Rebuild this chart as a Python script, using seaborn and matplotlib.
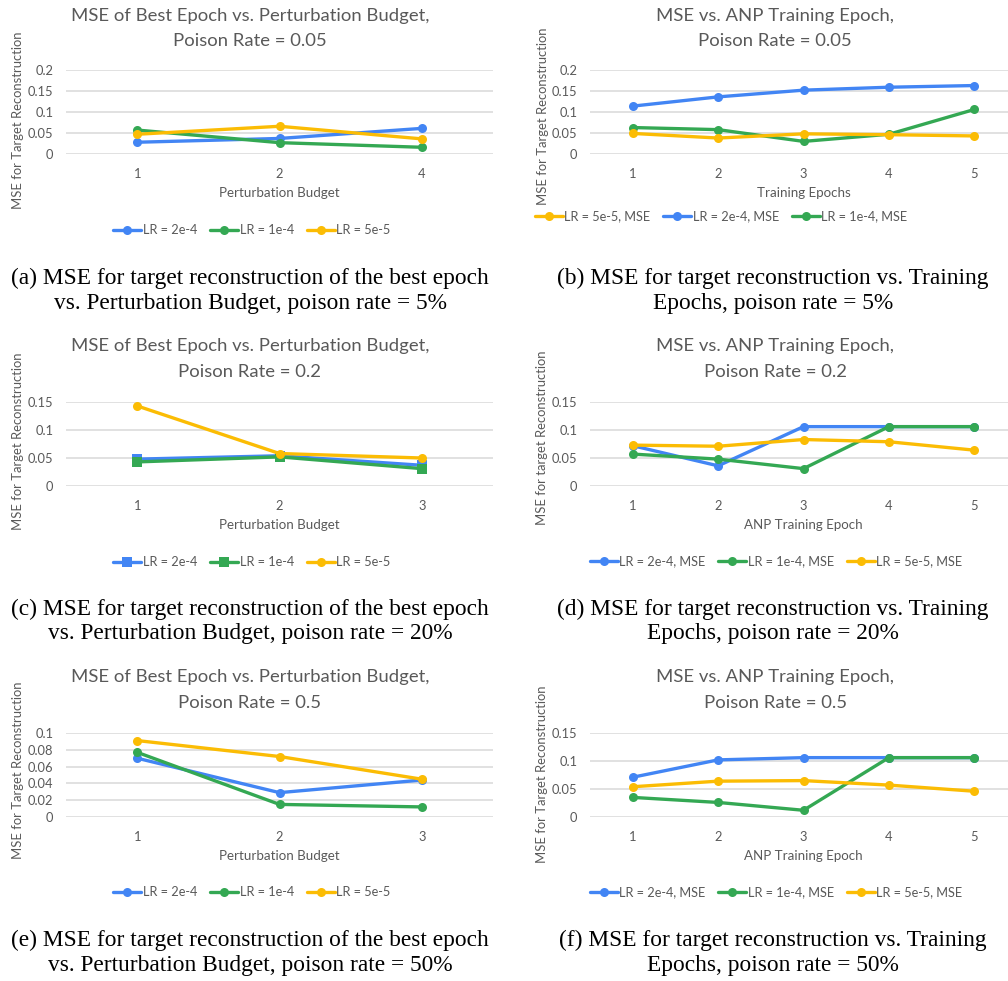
import matplotlib
matplotlib.use("Agg")
import matplotlib.pyplot as plt
import seaborn as sns
import pandas as pd

# ---- data -------------------------------------------------------------
budget_a = ["1", "2", "4"]
a_lr2e4 = [0.028, 0.037, 0.061]
a_lr1e4 = [0.057, 0.027, 0.016]
a_lr5e5 = [0.047, 0.066, 0.036]

epochs = ["1", "2", "3", "4", "5"]
b_lr5e5 = [0.049, 0.038, 0.048, 0.046, 0.043]
b_lr2e4 = [0.114, 0.136, 0.152, 0.159, 0.163]
b_lr1e4 = [0.063, 0.058, 0.030, 0.047, 0.106]

budget_c = ["1", "2", "3"]
c_lr2e4 = [0.048, 0.054, 0.037]
c_lr1e4 = [0.043, 0.052, 0.031]
c_lr5e5 = [0.143, 0.058, 0.050]

d_lr2e4 = [0.072, 0.036, 0.106, 0.106, 0.106]
d_lr1e4 = [0.057, 0.048, 0.031, 0.106, 0.106]
d_lr5e5 = [0.073, 0.071, 0.083, 0.079, 0.064]

budget_e = ["1", "2", "3"]
e_lr2e4 = [0.070, 0.029, 0.044]
e_lr1e4 = [0.077, 0.015, 0.012]
e_lr5e5 = [0.091, 0.072, 0.045]

f_lr2e4 = [0.071, 0.102, 0.106, 0.106, 0.106]
f_lr1e4 = [0.035, 0.026, 0.012, 0.106, 0.106]
f_lr5e5 = [0.054, 0.064, 0.065, 0.057, 0.046]

# ---- style ------------------------------------------------------------
BLUE, GREEN, YELLOW = "#4285F4", "#34A853", "#FBBC04"
TEXT = "#595959"
GRID = "#d9d9d9"

sns.set_theme(style="white")
plt.rcParams["font.family"] = ["Lato", "DejaVu Sans"]

W, H = 1008, 981
fig = plt.figure(figsize=(W / 100, H / 100), dpi=100)


def fx(x):
    return x / W


def fy(y):
    return 1 - y / H


def make_axes(left, top, right, bottom):
    return fig.add_axes([fx(left), fy(bottom), fx(right - left), (bottom - top) / H])


def draw_panel(box, cats, series, ymax, ystep, title, xlabel, ylabel,
               title_x, title_y, ylab_x, ylab_y, leg_x, leg_y, legend_order):
    ax = make_axes(*box)
    pos = list(range(len(cats)))
    for label, vals, color, marker in series:
        df = pd.DataFrame({"pos": pos, "mse": vals})
        sns.lineplot(data=df, x="pos", y="mse", ax=ax, color=color,
                     marker=marker, markersize=6.5, markeredgewidth=0,
                     linewidth=2.4, label=label, zorder=3)
    n_ticks = int(round(ymax / ystep))
    yt = [round(i * ystep, 4) for i in range(n_ticks + 1)]
    ax.set_ylim(0, ymax)
    ax.set_yticks(yt)
    ax.set_yticklabels([f"{v:g}" for v in yt])
    ax.set_xlim(-0.5, len(cats) - 0.5)
    ax.set_xticks(pos)
    ax.set_xticklabels(cats)
    ax.grid(axis="y", color=GRID, linewidth=1.1, zorder=0)
    ax.grid(axis="x", visible=False)
    for s in ax.spines.values():
        s.set_visible(False)
    ax.tick_params(axis="both", length=0, labelsize=9.3, labelcolor=TEXT)
    ax.tick_params(axis="x", pad=10)
    ax.tick_params(axis="y", pad=9)
    ax.set_xlabel("")
    ax.set_ylabel("")

    # title (two lines), axis labels
    fig.text(fx(title_x), fy(title_y[0]), title[0], ha="center", va="center",
             fontsize=13.3, color=TEXT)
    fig.text(fx(title_x), fy(title_y[1]), title[1], ha="center", va="center",
             fontsize=13.3, color=TEXT)
    xl_x = (box[0] + box[2]) / 2
    xl_y = box[3] + 39
    fig.text(fx(xl_x), fy(xl_y), xlabel, ha="center", va="center",
             fontsize=9.6, color=TEXT)
    fig.text(fx(ylab_x), fy(ylab_y), ylabel, ha="center", va="center",
             rotation=90, fontsize=9.4, color=TEXT)

    handles, labels = ax.get_legend_handles_labels()
    lookup = dict(zip(labels, handles))
    ax.legend([lookup[l] for l in legend_order], legend_order,
              loc="center", bbox_to_anchor=(fx(leg_x), fy(leg_y)),
              bbox_transform=fig.transFigure, ncol=3, frameon=False,
              fontsize=9.2, labelcolor=TEXT, handlelength=2.2,
              handletextpad=0.12, columnspacing=1.0)
    return ax


# (a)
draw_panel((66, 70, 493, 154), budget_a,
           [("LR = 2e-4", a_lr2e4, BLUE, "o"),
            ("LR = 1e-4", a_lr1e4, GREEN, "o"),
            ("LR = 5e-5", a_lr5e5, YELLOW, "o")],
           0.2, 0.05,
           ("MSE of Best Epoch vs. Perturbation Budget,", "Poison Rate = 0.05"),
           "Perturbation Budget", "MSE for Target Reconstruction",
           250, (16, 41), 18, 120, 252, 230,
           ["LR = 2e-4", "LR = 1e-4", "LR = 5e-5"])

# (b)
draw_panel((590, 70, 1017, 154), epochs,
           [("LR = 2e-4, MSE", b_lr2e4, BLUE, "o"),
            ("LR = 1e-4, MSE", b_lr1e4, GREEN, "o"),
            ("LR = 5e-5, MSE", b_lr5e5, YELLOW, "o")],
           0.2, 0.05,
           ("MSE vs. ANP Training Epoch,", "Poison Rate = 0.05"),
           "Training Epochs", "MSE for Target Reconstruction",
           775, (16, 41), 543, 116, 721, 216,
           ["LR = 5e-5, MSE", "LR = 2e-4, MSE", "LR = 1e-4, MSE"])

# (c)
draw_panel((66, 402, 493, 486), budget_c,
           [("LR = 2e-4", c_lr2e4, BLUE, "s"),
            ("LR = 1e-4", c_lr1e4, GREEN, "s"),
            ("LR = 5e-5", c_lr5e5, YELLOW, "o")],
           0.15, 0.05,
           ("MSE of Best Epoch vs. Perturbation Budget,", "Poison Rate = 0.2"),
           "Perturbation Budget", "MSE for Target Reconstruction",
           250, (346, 372), 18, 441, 252, 562,
           ["LR = 2e-4", "LR = 1e-4", "LR = 5e-5"])

# (d)
draw_panel((590, 402, 1017, 486), epochs,
           [("LR = 2e-4, MSE", d_lr2e4, BLUE, "o"),
            ("LR = 1e-4, MSE", d_lr1e4, GREEN, "o"),
            ("LR = 5e-5, MSE", d_lr5e5, YELLOW, "o")],
           0.15, 0.05,
           ("MSE vs. ANP Training Epoch,", "Poison Rate = 0.2"),
           "ANP Training Epoch", "MSE for target Reconstruction",
           775, (346, 372), 542, 438, 776, 561,
           ["LR = 2e-4, MSE", "LR = 1e-4, MSE", "LR = 5e-5, MSE"])

# (e)
draw_panel((66, 733, 493, 817), budget_e,
           [("LR = 2e-4", e_lr2e4, BLUE, "o"),
            ("LR = 1e-4", e_lr1e4, GREEN, "o"),
            ("LR = 5e-5", e_lr5e5, YELLOW, "o")],
           0.1, 0.02,
           ("MSE of Best Epoch vs. Perturbation Budget,", "Poison Rate = 0.5"),
           "Perturbation Budget", "MSE for Target Reconstruction",
           250, (677, 703), 18, 770, 252, 892,
           ["LR = 2e-4", "LR = 1e-4", "LR = 5e-5"])

# (f)
draw_panel((590, 733, 1017, 817), epochs,
           [("LR = 2e-4, MSE", f_lr2e4, BLUE, "o"),
            ("LR = 1e-4, MSE", f_lr1e4, GREEN, "o"),
            ("LR = 5e-5, MSE", f_lr5e5, YELLOW, "o")],
           0.15, 0.05,
           ("MSE vs. ANP Training Epoch,", "Poison Rate = 0.5"),
           "ANP Training Epoch", "MSE for Target Reconstruction",
           775, (677, 703), 542, 774, 776, 892,
           ["LR = 2e-4, MSE", "LR = 1e-4, MSE", "LR = 5e-5, MSE"])

# ---- sub-figure captions ----------------------------------------------
captions = [
    (250, 278, "(a) MSE for target reconstruction of the best epoch"),
    (250, 303, "vs. Perturbation Budget, poison rate = 5%"),
    (773, 278, "(b) MSE for target reconstruction vs. Training"),
    (773, 303, "Epochs, poison rate = 5%"),
    (250, 609, "(c) MSE for target reconstruction of the best epoch"),
    (250, 634, "vs. Perturbation Budget, poison rate = 20%"),
    (773, 609, "(d) MSE for target reconstruction vs. Training"),
    (773, 634, "Epochs, poison rate = 20%"),
    (250, 940, "(e) MSE for target reconstruction of the best epoch"),
    (250, 965, "vs. Perturbation Budget, poison rate = 50%"),
    (773, 940, "(f) MSE for target reconstruction vs. Training"),
    (773, 965, "Epochs, poison rate = 50%"),
]
for x, y, txt in captions:
    fig.text(fx(x), fy(y), txt, ha="center", va="center", fontsize=16.8,
             color="black", family=["Liberation Serif", "DejaVu Serif"])

fig.savefig("out.png", dpi=100, facecolor="white")
